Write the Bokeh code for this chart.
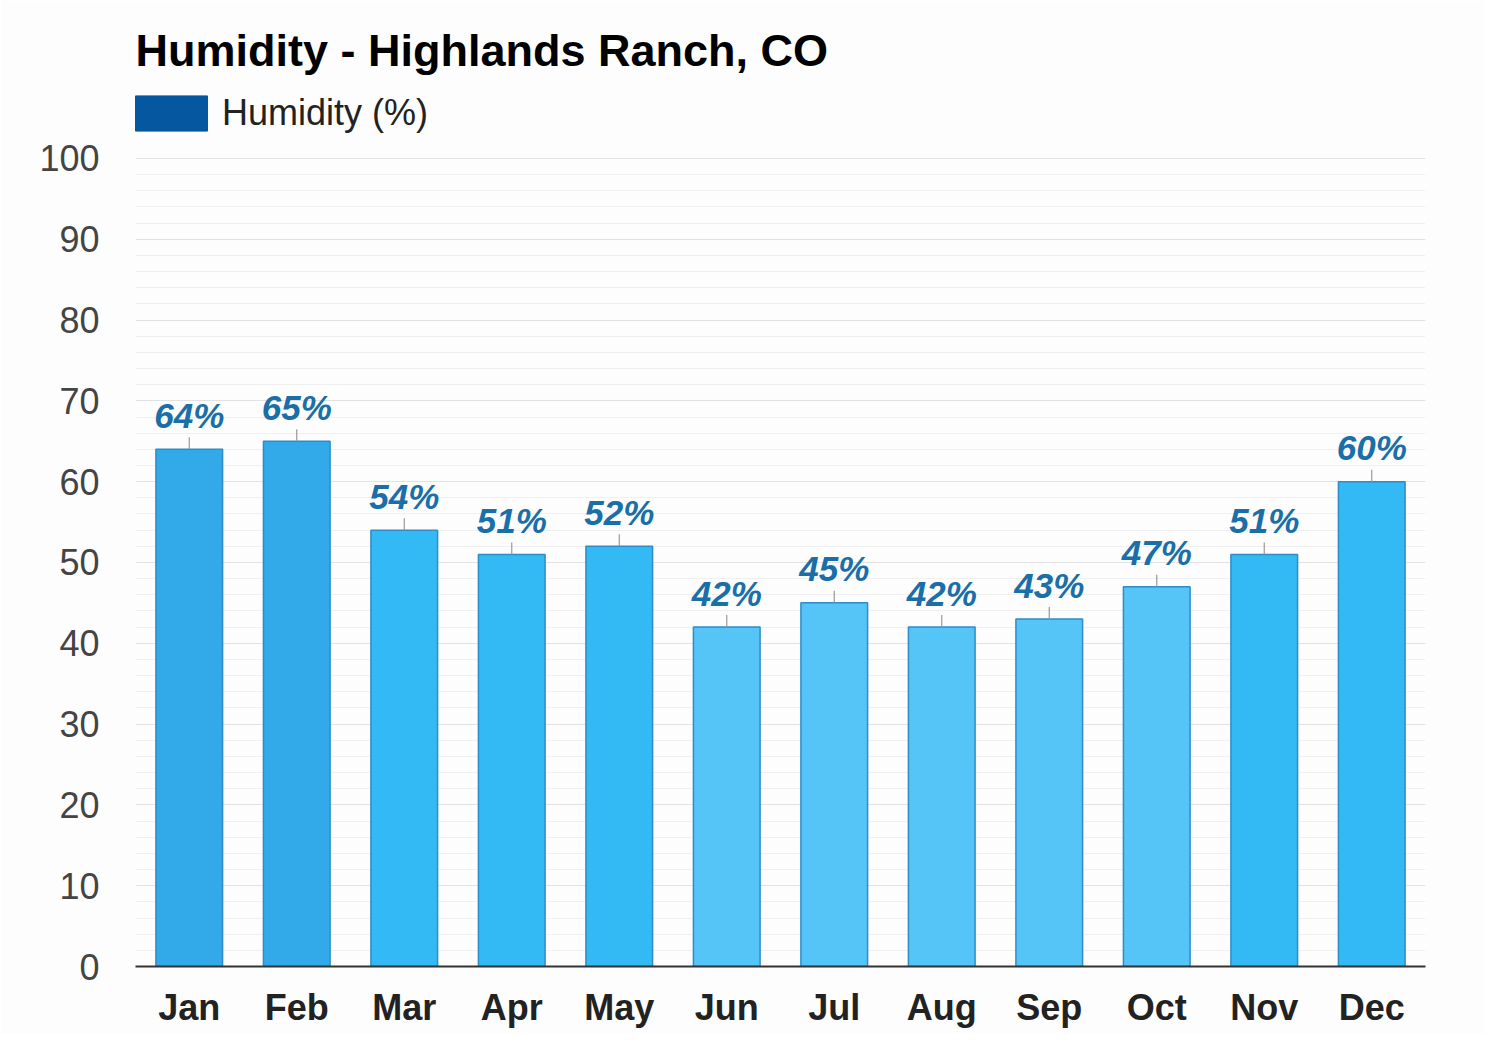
from bokeh.plotting import figure
from bokeh.models import ColumnDataSource, FixedTicker, Legend, LegendItem, Range1d
from bokeh.core.properties import value
from bokeh.embed import file_html
from bokeh.resources import INLINE
import math

months = ["Jan", "Feb", "Mar", "Apr", "May", "Jun", "Jul", "Aug", "Sep", "Oct", "Nov", "Dec"]
humidity = [64, 65, 54, 51, 52, 42, 45, 42, 43, 47, 51, 60]
y_ticks = [0, 10, 20, 30, 40, 50, 60, 70, 80, 90, 100]
y_minor_ticks = list(range(0, 101, 2))


def bar_color(v):
    if v > 60:
        return "#32a9e8"
    if v >= 50:
        return "#33b9f3"
    return "#55c4f7"


src = ColumnDataSource(dict(
    month=months,
    hum=humidity,
    label=[f"{v}%" for v in humidity],
    color=[bar_color(v) for v in humidity],
))

FONT = "Liberation Sans"

# frame extends above 100 to leave room for the legend row (no ticks/grid there)
p = figure(
    x_range=months, y_range=Range1d(0, 108.9),
    width=1484, height=1034,
    output_backend="svg", toolbar_location=None,
    min_border_left=135, min_border_right=59, min_border_top=86, min_border_bottom=68,
    background_fill_color="#fdfdfd", border_fill_color="#fdfdfd",
    outline_line_color=None,
)

p.title.text = "Humidity - Highlands Ranch, CO"
p.title.text_font = FONT
p.title.text_font_size = "45px"
p.title.text_font_style = "bold"
p.title.text_color = "#000000"
p.title.align = "left"
p.title.standoff = 22

bars = p.vbar(x="month", top="hum", width=0.62, source=src,
              fill_color="color", line_color="#2f8cc8", line_width=1.5)

p.ray(x="month", y="hum", length=12, length_units="screen", angle=math.pi / 2,
      source=src, line_color="#999999", line_width=1.2)

p.text(x="month", y="hum", text="label", source=src,
       text_align="center", text_baseline="alphabetic", y_offset=-34,
       text_font=value(FONT), text_font_size="35px", text_font_style="bold italic",
       text_color="#1a6fa8")

# legend proxy
proxy = p.vbar(x=[months[0]], top=[0], width=0, fill_color="#0557a0", line_color="#0557a0")
legend = Legend(items=[LegendItem(label="Humidity (%)", renderers=[proxy])],
                location=(-9, 831), orientation="horizontal",
                glyph_width=90, glyph_height=44, padding=0, margin=0,
                label_text_font=FONT, label_text_font_size="36px",
                label_text_color="#222222", label_standoff=6,
                background_fill_alpha=0, border_line_color=None)
p.add_layout(legend)

# axes
p.yaxis.ticker = FixedTicker(ticks=y_ticks, minor_ticks=y_minor_ticks)
p.yaxis.axis_line_color = None
p.yaxis.major_tick_line_color = None
p.yaxis.minor_tick_line_color = None
p.yaxis.major_label_text_font = FONT
p.yaxis.major_label_text_font_size = "36px"
p.yaxis.major_label_text_color = "#444444"
p.yaxis.major_label_standoff = 30

p.xaxis.axis_line_color = "#333333"
p.xaxis.axis_line_width = 2
p.xaxis.major_tick_line_color = None
p.xaxis.minor_tick_line_color = None
p.xaxis.major_label_text_font = FONT
p.xaxis.major_label_text_font_size = "36px"
p.xaxis.major_label_text_font_style = "bold"
p.xaxis.major_label_text_color = "#222222"
p.xaxis.major_label_standoff = 14

p.xgrid.grid_line_color = None
p.ygrid.grid_line_color = "#e2e2e2"
p.ygrid.grid_line_width = 1
p.ygrid.minor_grid_line_color = "#f0f0f0"
p.ygrid.minor_grid_line_width = 1

p.x_range.range_padding = 0

open("out.html", "w").write(file_html(p, INLINE))
